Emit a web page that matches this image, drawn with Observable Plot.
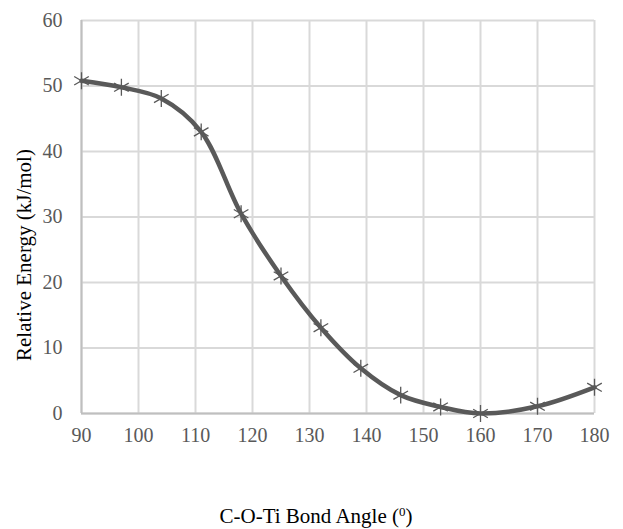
<!DOCTYPE html>
<html>
<head>
<meta charset="utf-8">
<script src="https://cdn.jsdelivr.net/npm/d3@7"></script>
<script src="https://cdn.jsdelivr.net/npm/@observablehq/plot@0.6"></script>
<style>
  html, body { margin: 0; padding: 0; background: #fff; }
</style>
</head>
<body>
<div id="chart"></div>
<script>
const angles = [90, 97, 104, 111, 118, 125, 132, 139, 146, 153, 160, 170, 180];
const energies = [50.8, 49.8, 48.1, 43.0, 30.5, 21.0, 13.1, 6.9, 2.8, 1.0, 0.0, 1.1, 4.0];
const xTicks = [90, 100, 110, 120, 130, 140, 150, 160, 170, 180];
const yTicks = [0, 10, 20, 30, 40, 50, 60];
const xTitleMain = "C-O-Ti Bond Angle (";
const xTitleSup = "0";
const xTitleEnd = ")";
const yTitle = "Relative Energy (kJ/mol)";

const data = angles.map((a, i) => ({angle: a, energy: energies[i]}));

const chart = Plot.plot({
  width: 623,
  height: 529,
  marginLeft: 81,
  marginRight: 29,
  marginTop: 20,
  marginBottom: 116,
  style: {fontFamily: "'Liberation Serif', 'Times New Roman', serif", background: "#fff"},
  x: {domain: [90, 180]},
  y: {domain: [0, 60]},
  marks: [
    Plot.gridX(xTicks, {stroke: "#d9d9d9", strokeOpacity: 1, strokeWidth: 2}),
    Plot.gridY(yTicks, {stroke: "#d9d9d9", strokeOpacity: 1, strokeWidth: 2}),
    Plot.ruleY([0], {stroke: "#bfbfbf", strokeWidth: 2}),
    Plot.ruleX([90], {stroke: "#bfbfbf", strokeWidth: 2}),
    Plot.axisX(xTicks, {tickSize: 0, tickPadding: 14, fontSize: 20, color: "#595959", label: null, tickFormat: d => String(d)}),
    Plot.axisY(yTicks, {tickSize: 0, tickPadding: 19, fontSize: 20, color: "#595959", label: null, tickFormat: d => String(d)}),
    Plot.line(data, {x: "angle", y: "energy", curve: "catmull-rom", stroke: "#595959", strokeWidth: 4.5}),
    Plot.dot(data, {x: "angle", y: "energy", symbol: "asterisk", r: 8, stroke: "#595959", strokeWidth: 1.3}),
    Plot.text([yTitle], {frameAnchor: "left", dx: -57, dy: 38, rotate: -90, fontSize: 21, fill: "#000", textAnchor: "middle", lineAnchor: "middle"}),
    Plot.text([xTitleMain + xTitleSup + xTitleEnd], {frameAnchor: "bottom", dx: -22, dy: 103, fontSize: 21, fill: "#000", textAnchor: "middle", lineAnchor: "middle", className: "xtitle"})
  ]
});
document.getElementById("chart").appendChild(chart);

// render the degree "0" as a superscript
d3.select(chart).selectAll("text").filter(function() {
  return this.textContent === xTitleMain + xTitleSup + xTitleEnd;
}).each(function() {
  const t = d3.select(this);
  t.text(null);
  t.append("tspan").text(xTitleMain);
  t.append("tspan").attr("font-size", 13).attr("dy", "-0.55em").text(xTitleSup);
  t.append("tspan").attr("dy", "0.35em").text(xTitleEnd);
});
</script>
</body>
</html>
